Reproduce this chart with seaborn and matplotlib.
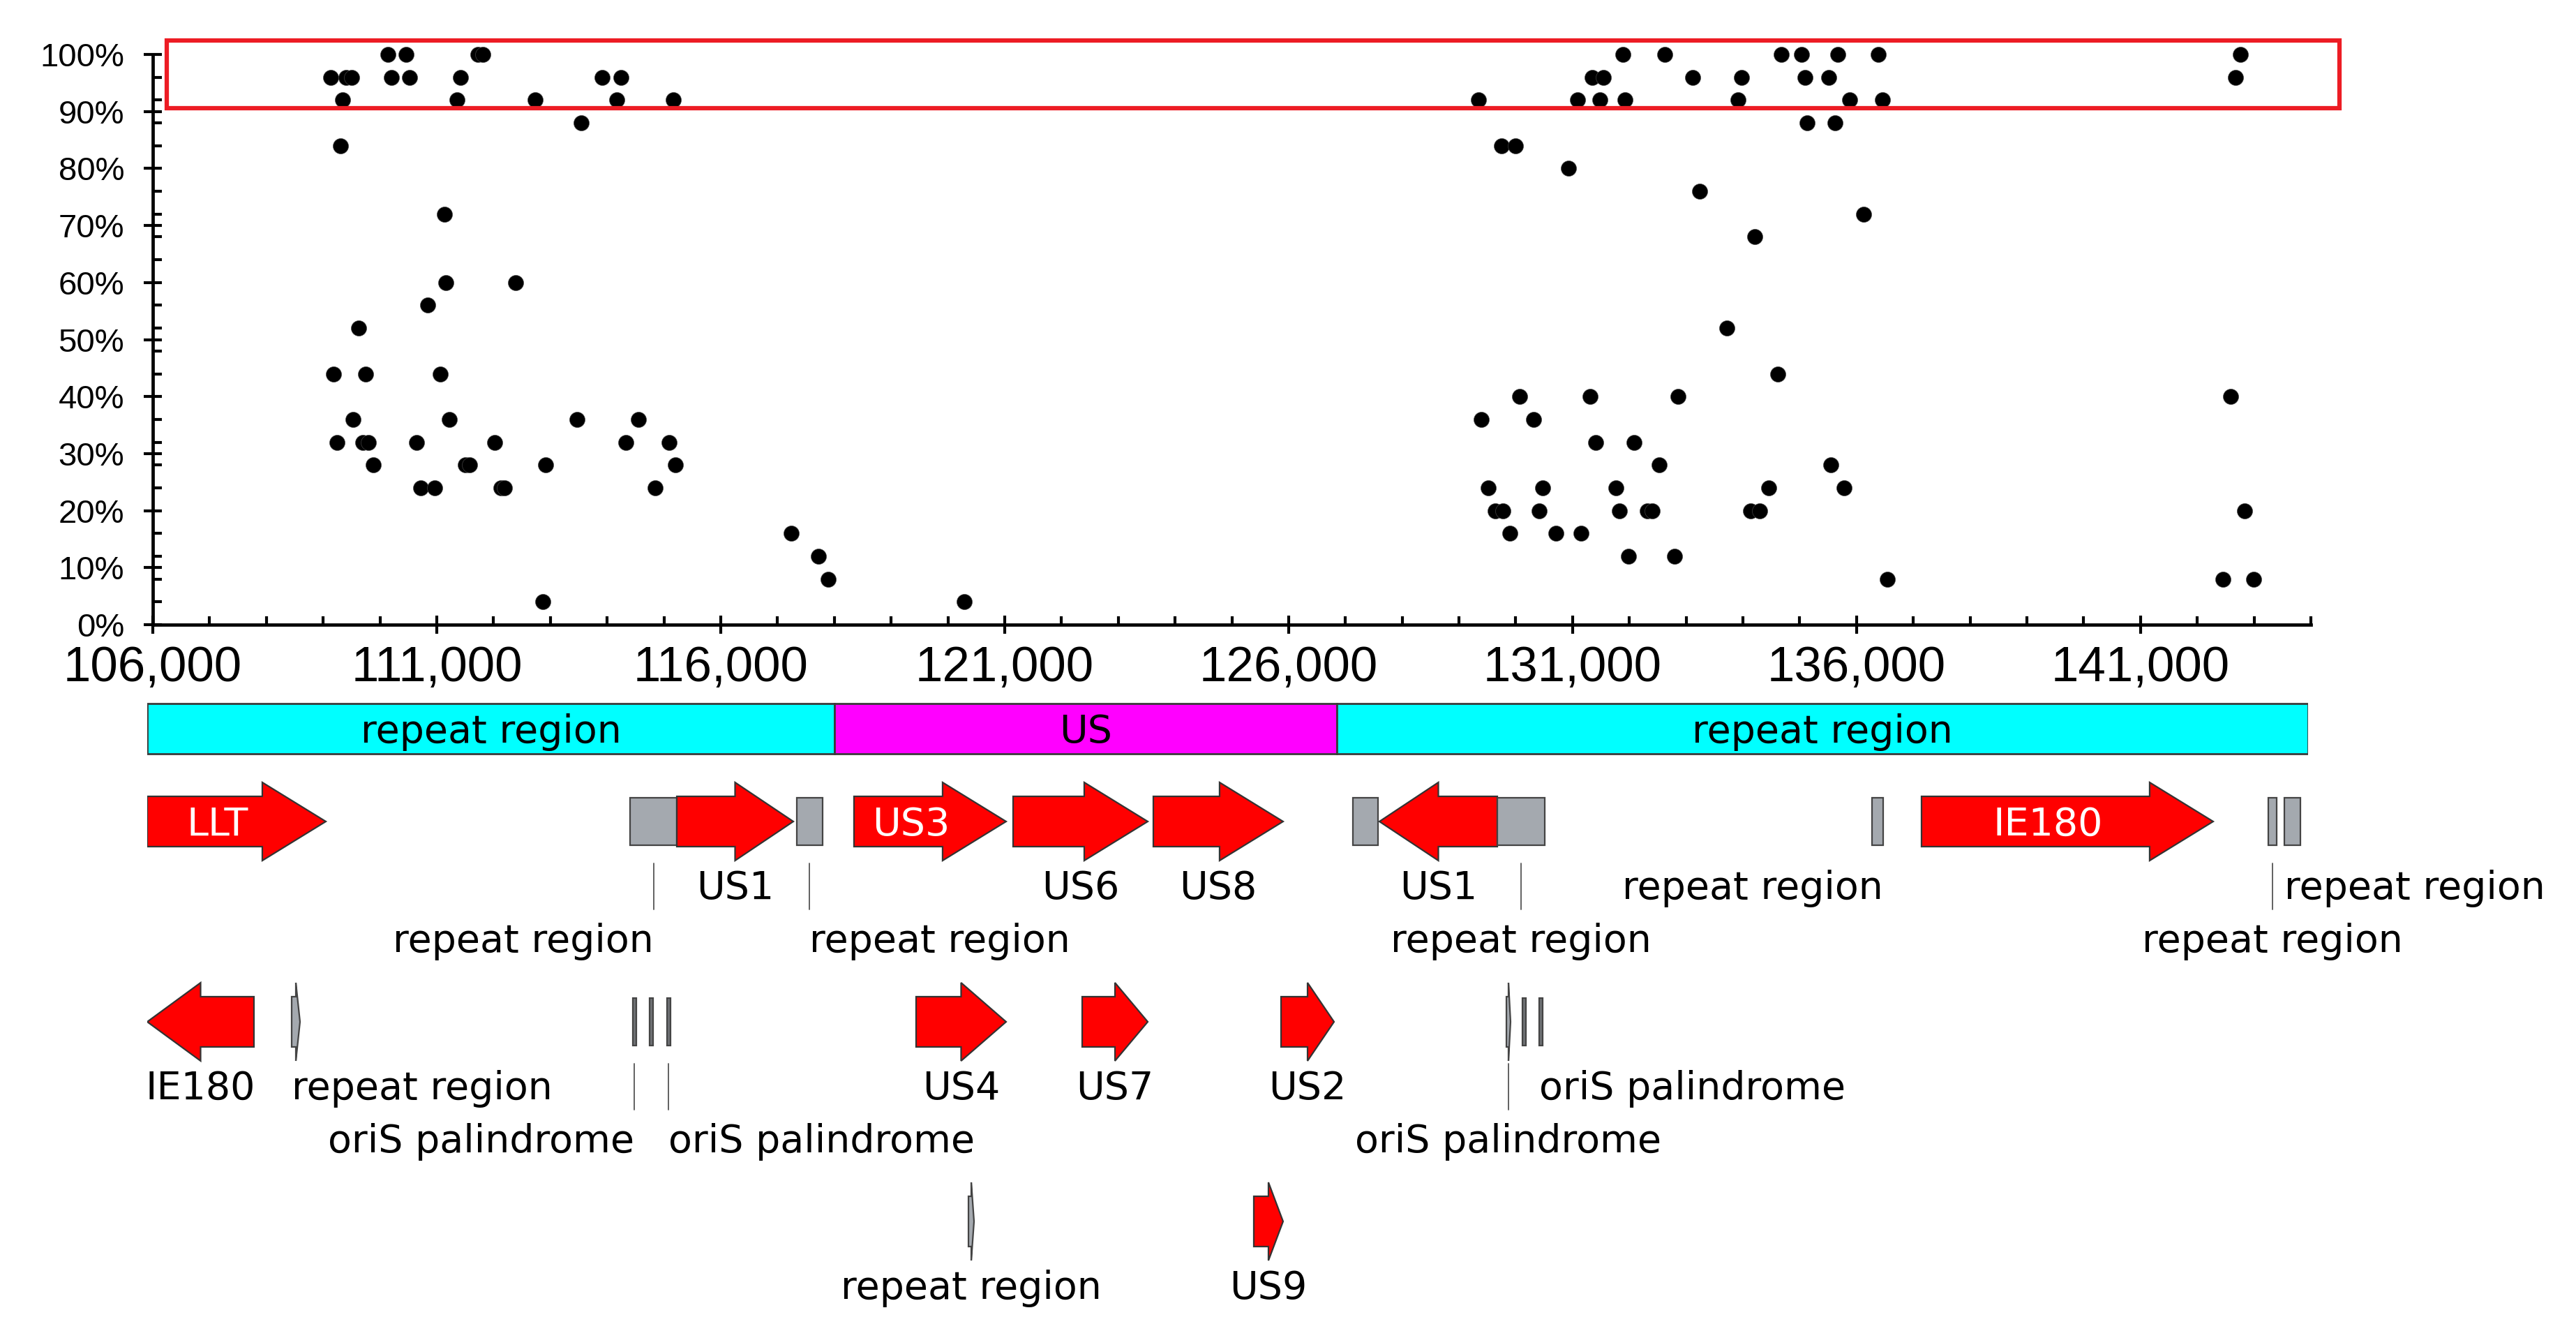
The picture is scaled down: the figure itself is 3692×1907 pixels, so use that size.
import numpy as np
import pandas as pd
import seaborn as sns
import matplotlib.pyplot as plt
from matplotlib.patches import Polygon, Rectangle
from matplotlib.ticker import MultipleLocator, FixedLocator, FuncFormatter

# variant position (bp) and frequency (%)
positions = [
    109134, 109408, 109507, 109342, 109310,
    110138, 110457, 110204, 110517,
    111423, 111357, 111724, 111812,
    112734, 113547, 113909, 114238, 114167, 115160,
    111132, 111165, 110835, 112383, 109628,
    109178, 109749, 111066,
    109529, 111225, 113470, 114557,
    109244, 109694, 109793, 110649, 112021, 114326, 115094,
    109886, 111505, 111576, 112921, 115199,
    110715, 110962, 112125, 112196, 114842,
    112866, 117236, 117717, 117887, 120283,
    131892, 132619, 134678, 135036, 135670, 136380, 142764,
    131341, 131540, 133109, 133974, 135097, 135510, 142671,
    129348, 131083, 131479, 131925, 133919, 135873, 136452,
    135130, 135615,
    129744, 129998,
    130923, 133236, 136127, 134205, 133720, 134618,
    130064, 131314, 132856, 142592,
    129387, 130317,
    131402, 132079,
    132531, 135543,
    129513, 130477, 131760, 134453, 135780,
    129640, 129778, 130411, 131820, 132322, 132404, 134139, 134293, 142830,
    129899, 130703, 131149,
    131980, 132790,
    136545, 142446, 142989,
]
frequencies = [
    96, 96, 96, 92, 84,
    100, 100, 96, 96,
    96, 92, 100, 100,
    92, 88, 96, 96, 92, 92,
    72, 60, 56, 60, 52,
    44, 44, 44,
    36, 36, 36, 36,
    32, 32, 32, 32, 32, 32, 32,
    28, 28, 28, 28, 28,
    24, 24, 24, 24, 24,
    4, 16, 12, 8, 4,
    100, 100, 100, 100, 100, 100, 100,
    96, 96, 96, 96, 96, 96, 96,
    92, 92, 92, 92, 92, 92, 92,
    88, 88,
    84, 84,
    80, 76, 72, 68, 52, 44,
    40, 40, 40, 40,
    36, 36,
    32, 32,
    28, 28,
    24, 24, 24, 24, 24,
    20, 20, 20, 20, 20, 20, 20, 20, 20,
    16, 16, 16,
    12, 12,
    8, 8, 8,
]

# highlighted band (frequency >= 90 %)
band_low, band_high = 90.6, 102.5

# genome region bar
region_names = ['repeat region', 'US', 'repeat region']
region_starts = [106000, 118086, 126920]
region_ends = [118086, 126920, 144000]

# annotated features
feat_names = ['LLT', 'repeat region', 'US1', 'repeat region', 'US3', 'US6', 'US8',
              'repeat region', 'US1', 'repeat region', 'repeat region', 'IE180',
              'repeat region', 'repeat region',
              'IE180', 'repeat region', 'oriS palindrome', 'repeat region',
              'oriS palindrome', 'US4', 'US7', 'US2', 'oriS palindrome',
              'repeat region', 'oriS palindrome',
              'repeat region', 'US9']
feat_starts = [106000, 114491, 115313, 117423, 118429, 121227, 123693,
               127202, 127669, 129742, 136331, 137202, 143301, 143583,
               106000, 108540, 114540, 114834, 115141, 119521, 122442, 125939,
               129902, 130184, 130479,
               120442, 125460]
feat_ends = [109141, 115313, 117362, 117877, 121104, 123595, 125975,
             127644, 129742, 130577, 136528, 142331, 143448, 143865,
             107877, 108687, 114601, 114896, 115202, 121104, 123595, 126871,
             129975, 130245, 130540,
             120540, 125975]
feat_strands = [1, 0, 1, 0, 1, 1, 1,
                0, -1, 0, 0, 1, 0, 0,
                -1, 1, 0, 0, 0, 1, 1, 1,
                1, 0, 0,
                1, 1]
feat_types = ['gene', 'repeat', 'gene', 'repeat', 'gene', 'gene', 'gene',
              'repeat', 'gene', 'repeat', 'repeat', 'gene', 'repeat', 'repeat',
              'gene', 'repeat', 'ori', 'ori', 'ori', 'gene', 'gene', 'gene',
              'repeat', 'ori', 'ori',
              'repeat', 'gene']
feat_rows = [0] * 14 + [1] * 11 + [2] * 2

# label layout: level (0 inside, 1/2 below, None hidden) and anchor
label_level = [0, 2, 1, 2, 0, 1, 1,
               None, 1, 2, 1, 0, 2, 1,
               1, 1, 2, None, 2, 1, 1, 1,
               2, None, 1,
               1, 1]
label_anchor = ['c', 'r@c', 'c', 'l@c', 'c', 'c', 'c',
                'c', 'c', 'c', 'r@e', 'c', 'c', 'l@s',
                'c', 'l@s', 'r@c', 'c', 'l@c', 'c', 'c', 'c',
                'c', 'c', 'l@s',
                'c', 'c']

# ---------------------------------------------------------------- figure
W, H = 3692, 1907
sns.set_style('ticks')
plt.rcParams['font.family'] = ['Liberation Sans', 'DejaVu Sans']
fig = plt.figure(figsize=(W / 100, H / 100), dpi=100)

# scatter panel
ax = fig.add_axes([219 / W, 0.53067, (3312 - 219) / W, 0.44127])
df = pd.DataFrame({'position': positions, 'frequency': frequencies})
sns.scatterplot(data=df, x='position', y='frequency', ax=ax, color='black',
                s=250, edgecolor='#444444', linewidth=0.5, zorder=3)
ax.set_xlim(106000, 144000)
ax.set_ylim(0, 103)
ax.set_xlabel('')
ax.set_ylabel('')
ax.xaxis.set_major_locator(FixedLocator(np.arange(106000, 144001, 5000)))
ax.xaxis.set_minor_locator(MultipleLocator(1000))
ax.yaxis.set_major_locator(MultipleLocator(10))
ax.yaxis.set_minor_locator(MultipleLocator(4))
ax.xaxis.set_major_formatter(FuncFormatter(lambda v, p: f'{v:,.0f}'))
ax.yaxis.set_major_formatter(FuncFormatter(lambda v, p: f'{v:.0f}%'))
for s in ['top', 'right']:
    ax.spines[s].set_visible(False)
for s in ['left', 'bottom']:
    ax.spines[s].set_linewidth(3.4)
    ax.spines[s].set_color('black')
ax.spines['left'].set_bounds(0, 100)
ax.tick_params(which='major', direction='inout', length=19, width=3, color='black')
ax.tick_params(which='minor', direction='in', length=9, width=3, color='black')
ax.tick_params(axis='x', which='major', labelsize=51, pad=12, labelcolor='black')
ax.tick_params(axis='y', which='major', labelsize=34, pad=20, labelcolor='black')
ax.add_patch(Rectangle((106250, band_low), 144500 - 106250, band_high - band_low,
                       fill=False, ec='#ED1C24', lw=4.5, clip_on=False, zorder=4))

# feature map panel, y in pixel rows from top
gax = fig.add_axes([211 / W, 0, (3308 - 211) / W, 1])
gax.set_xlim(106000, 144000)
gax.set_ylim(H, 0)
gax.axis('off')

row_y = [1177, 1464, 1750]
body_h, head_h, head_max = 36, 56, 1117
lab_font = dict(family='DejaVu Sans', fontsize=40)

# region bar
for name, s, e in zip(region_names, region_starts, region_ends):
    col = '#FF00FF' if name == 'US' else '#00FFFF'
    gax.add_patch(Rectangle((s, 1008), e - s, 72, fc=col, ec='#3a3a3a', lw=2))
    gax.text((s + e) / 2, 1064, name, ha='center', va='baseline', color='black', **lab_font)


def draw_feature(start, end, strand, yc, kind):
    if kind == 'gene':
        face, edge = '#FF0000', '#333333'
    elif kind == 'ori':
        face, edge = '#6f7275', '#444444'
    else:
        face, edge = '#A4A9AF', '#444444'
    if strand == 0:
        gax.add_patch(Rectangle((start, yc - 34), end - start, 68,
                                fc=face, ec=edge, lw=1.6))
        return
    head = min(head_max, (end - start) / 2)
    if strand > 0:
        b = end - head
        pts = [(start, yc - body_h), (b, yc - body_h), (b, yc - head_h), (end, yc),
               (b, yc + head_h), (b, yc + body_h), (start, yc + body_h)]
    else:
        b = start + head
        pts = [(end, yc - body_h), (b, yc - body_h), (b, yc - head_h), (start, yc),
               (b, yc + head_h), (b, yc + body_h), (end, yc + body_h)]
    gax.add_patch(Polygon(pts, closed=True, fc=face, ec=edge, lw=1.6, joinstyle='miter'))


for i, name in enumerate(feat_names):
    s, e, st = feat_starts[i], feat_ends[i], feat_strands[i]
    yc = row_y[feat_rows[i]]
    draw_feature(s, e, st, yc, feat_types[i])
    lev = label_level[i]
    if lev is None:
        continue
    if lev == 0:
        head = min(head_max, (e - s) / 2)
        body_mid = (s + e - head) / 2 if st > 0 else (s + head + e) / 2
        gax.text(body_mid + 0.2 * head * st, yc + 20, name, ha='center', va='baseline',
                 color='white', **lab_font)
        continue
    anc = label_anchor[i]
    if anc == 'c':
        ha, x = 'center', (s + e) / 2
    else:
        side, ref = anc.split('@')
        ha = 'right' if side == 'r' else 'left'
        x = {'c': (s + e) / 2, 's': s, 'e': e}[ref]
    base = yc + (111 if lev == 1 else 187)
    gax.text(x, base, name, ha=ha, va='baseline', color='black', **lab_font)
    if lev == 2:
        gax.plot([(s + e) / 2] * 2, [yc + 60, yc + 126], color='#555555', lw=1.3)

fig.savefig('out.png', dpi=100)
